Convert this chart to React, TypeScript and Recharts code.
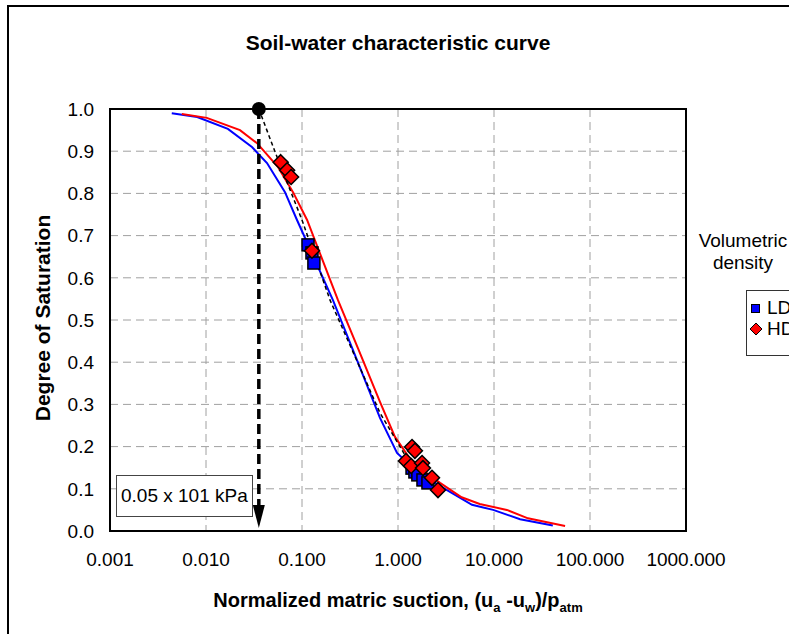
import React from "react";
import {
  ComposedChart,
  Scatter,
  XAxis,
  YAxis,
  CartesianGrid,
  ReferenceArea,
} from "recharts";

const X_TICKS = [0.001, 0.01, 0.1, 1, 10, 100, 1000];
const Y_TICKS = [0, 0.1, 0.2, 0.3, 0.4, 0.5, 0.6, 0.7, 0.8, 0.9, 1.0];

const BLUE_CURVE = [
  { x: 0.0044, y: 0.99 },
  { x: 0.0081, y: 0.981 },
  { x: 0.0169, y: 0.953 },
  { x: 0.0301, y: 0.91 },
  { x: 0.0432, y: 0.872 },
  { x: 0.0665, y: 0.803 },
  { x: 0.0887, y: 0.737 },
  { x: 0.21, y: 0.547 },
  { x: 0.374, y: 0.405 },
  { x: 0.649, y: 0.268 },
  { x: 0.977, y: 0.185 },
  { x: 1.58, y: 0.14 },
  { x: 3.24, y: 0.097 },
  { x: 5.9, y: 0.062 },
  { x: 9.8, y: 0.05 },
  { x: 18.7, y: 0.028 },
  { x: 41, y: 0.013 },
];

const RED_CURVE = [
  { x: 0.0056, y: 0.988 },
  { x: 0.0102, y: 0.979 },
  { x: 0.0226, y: 0.95 },
  { x: 0.034, y: 0.919 },
  { x: 0.056, y: 0.863 },
  { x: 0.0806, y: 0.803 },
  { x: 0.113, y: 0.737 },
  { x: 0.237, y: 0.547 },
  { x: 0.389, y: 0.429 },
  { x: 0.649, y: 0.306 },
  { x: 0.93, y: 0.223 },
  { x: 1.43, y: 0.161 },
  { x: 2.74, y: 0.114 },
  { x: 4.6, y: 0.08 },
  { x: 7.1, y: 0.064 },
  { x: 13.6, y: 0.05 },
  { x: 22.6, y: 0.03 },
  { x: 55, y: 0.012 },
];

const LD_POINTS = [
  { x: 0.1155, y: 0.678 },
  { x: 0.127, y: 0.659 },
  { x: 0.133, y: 0.635 },
  { x: 1.4, y: 0.149 },
  { x: 1.5, y: 0.14 },
  { x: 1.61, y: 0.133 },
  { x: 1.82, y: 0.121 },
  { x: 2.05, y: 0.114 },
];

const HD_POINTS = [
  { x: 0.06, y: 0.874 },
  { x: 0.07, y: 0.855 },
  { x: 0.077, y: 0.839 },
  { x: 0.127, y: 0.664 },
  { x: 1.4, y: 0.199 },
  { x: 1.5, y: 0.19 },
  { x: 1.21, y: 0.166 },
  { x: 1.37, y: 0.154 },
  { x: 1.78, y: 0.161 },
  { x: 1.82, y: 0.149 },
  { x: 2.26, y: 0.126 },
  { x: 2.61, y: 0.097 },
];

const FIT_LINE = [
  { x: 0.0355, y: 1.0 },
  { x: 0.055, y: 0.886 },
  { x: 0.1, y: 0.737 },
  { x: 0.196, y: 0.547 },
  { x: 0.649, y: 0.28 },
  { x: 1.18, y: 0.18 },
];

const AIR_ENTRY = [{ x: 0.0355, y: 1.0 }];
const ARROW_LINE = [
  { x: 0.0355, y: 1.0 },
  { x: 0.0355, y: 0.06 },
];
const ARROW_TIP = [{ x: 0.0355, y: 0.007 }];

const FONT = "'Liberation Sans', Arial, sans-serif";

const Square = (props: any) => {
  const { cx, cy } = props;
  if (cx == null || cy == null) return null;
  return (
    <rect x={cx - 6} y={cy - 6} width={12} height={12} fill="#0000ff" stroke="#000" strokeWidth={1.5} />
  );
};

const Diamond = (props: any) => {
  const { cx, cy } = props;
  if (cx == null || cy == null) return null;
  const r = 7.5;
  return (
    <polygon
      points={`${cx},${cy - r} ${cx + r},${cy} ${cx},${cy + r} ${cx - r},${cy}`}
      fill="#ff0000"
      stroke="#000"
      strokeWidth={1.5}
    />
  );
};

const NoShape = () => null;

const BigDot = (props: any) => {
  const { cx, cy } = props;
  if (cx == null || cy == null) return null;
  return <circle cx={cx} cy={cy} r={7} fill="#000" />;
};

const ArrowHead = (props: any) => {
  const { cx, cy } = props;
  if (cx == null || cy == null) return null;
  return <polygon points={`${cx - 6},${cy - 23} ${cx + 6},${cy - 23} ${cx},${cy}`} fill="#000" />;
};

export default function App() {
  return (
    <div
      style={{
        position: "absolute",
        left: 0,
        top: 0,
        width: 789,
        height: 634,
        background: "#fff",
        fontFamily: FONT,
        overflow: "hidden",
      }}
    >
      {/* outer frame */}
      <div
        style={{
          position: "absolute",
          left: 7,
          top: 5,
          width: 800,
          height: 700,
          borderLeft: "2px solid #000",
          borderTop: "2px solid #000",
        }}
      />
      <div
        style={{
          position: "absolute",
          left: 398,
          top: 43,
          transform: "translate(-50%, -50%)",
          fontSize: 21,
          fontWeight: "bold",
          whiteSpace: "nowrap",
        }}
      >
        Soil-water characteristic curve
      </div>
      <ComposedChart
        width={789}
        height={634}
        margin={{ top: 109, right: 103, bottom: 63, left: 50 }}
        style={{ position: "absolute", left: 0, top: 0 }}
      >
        <CartesianGrid stroke="#a0a0a0" strokeDasharray="8 5" strokeWidth={1} />
        <XAxis
          type="number"
          dataKey="x"
          scale="log"
          domain={[0.001, 1000]}
          ticks={X_TICKS}
          axisLine={false}
          tickLine={false}
          tickSize={0}
          tickMargin={22}
          height={40}
          tickFormatter={(v: number) => v.toFixed(3)}
          tick={{ fill: "#000", fontSize: 19, fontFamily: FONT }}
        />
        <YAxis
          type="number"
          dataKey="y"
          domain={[0, 1]}
          ticks={Y_TICKS}
          axisLine={false}
          tickLine={false}
          tickSize={0}
          tickMargin={16}
          width={60}
          tickFormatter={(v: number) => v.toFixed(1)}
          tick={{ fill: "#000", fontSize: 19, fontFamily: FONT }}
        />
        <ReferenceArea
          x1={0.001}
          x2={1000}
          y1={0}
          y2={1}
          fill="none"
          fillOpacity={0}
          stroke="#000"
          strokeWidth={2}
          ifOverflow="visible"
        />
        <Scatter
          data={BLUE_CURVE}
          line={{ stroke: "#0000ff", strokeWidth: 2 }}
          shape={NoShape}
          isAnimationActive={false}
        />
        <Scatter
          data={RED_CURVE}
          line={{ stroke: "#ff0000", strokeWidth: 2 }}
          shape={NoShape}
          isAnimationActive={false}
        />
        <Scatter
          data={FIT_LINE}
          line={{ stroke: "#000", strokeWidth: 1.5, strokeDasharray: "4 3" }}
          shape={NoShape}
          isAnimationActive={false}
        />
        <Scatter
          data={ARROW_LINE}
          line={{ stroke: "#000", strokeWidth: 3.5, strokeDasharray: "10 5" }}
          shape={NoShape}
          isAnimationActive={false}
        />
        <Scatter data={ARROW_TIP} shape={ArrowHead} isAnimationActive={false} />
        <Scatter data={LD_POINTS} shape={Square} isAnimationActive={false} />
        <Scatter data={HD_POINTS} shape={Diamond} isAnimationActive={false} />
        <Scatter data={AIR_ENTRY} shape={BigDot} isAnimationActive={false} />
      </ComposedChart>

      {/* annotation box */}
      <div
        style={{
          position: "absolute",
          left: 116,
          top: 475,
          width: 137,
          height: 42,
          border: "1px solid #444",
          background: "#fff",
          boxSizing: "border-box",
          fontSize: 19,
          lineHeight: "40px",
          paddingLeft: 4,
          whiteSpace: "nowrap",
        }}
      >
        0.05 x 101 kPa
      </div>

      {/* y-axis title */}
      <div
        style={{
          position: "absolute",
          left: 43,
          top: 318,
          transform: "translate(-50%, -50%) rotate(-90deg)",
          fontSize: 21,
          fontWeight: "bold",
          whiteSpace: "nowrap",
        }}
      >
        Degree of Saturation
      </div>

      {/* x-axis title */}
      <div
        style={{
          position: "absolute",
          left: 398,
          top: 602,
          transform: "translate(-50%, -50%)",
          fontSize: 20,
          fontWeight: "bold",
          whiteSpace: "nowrap",
        }}
      >
        Normalized matric suction, (u
        <sub style={{ fontSize: 13 }}>a</sub> -u<sub style={{ fontSize: 13 }}>w</sub>)/p
        <sub style={{ fontSize: 13 }}>atm</sub>
      </div>

      {/* legend */}
      <div
        style={{
          position: "absolute",
          left: 693,
          top: 230,
          width: 100,
          textAlign: "center",
          fontSize: 19,
          lineHeight: "22px",
        }}
      >
        Volumetric
        <br />
        density
      </div>
      <div
        style={{
          position: "absolute",
          left: 746,
          top: 290,
          width: 80,
          height: 64,
          border: "1px solid #333",
          background: "#fff",
          fontSize: 19,
        }}
      >
        <div style={{ position: "absolute", left: 4, top: 13, width: 9, height: 9, background: "#0000ff", border: "1px solid #000", boxSizing: "border-box" }} />
        <div style={{ position: "absolute", left: 20, top: 7, lineHeight: "20px" }}>LD</div>
        <svg style={{ position: "absolute", left: 2, top: 31 }} width={14} height={14}>
          <polygon points="7,1 13,7 7,13 1,7" fill="#ff0000" stroke="#000" strokeWidth={1} />
        </svg>
        <div style={{ position: "absolute", left: 20, top: 28, lineHeight: "20px" }}>HD</div>
      </div>
    </div>
  );
}
